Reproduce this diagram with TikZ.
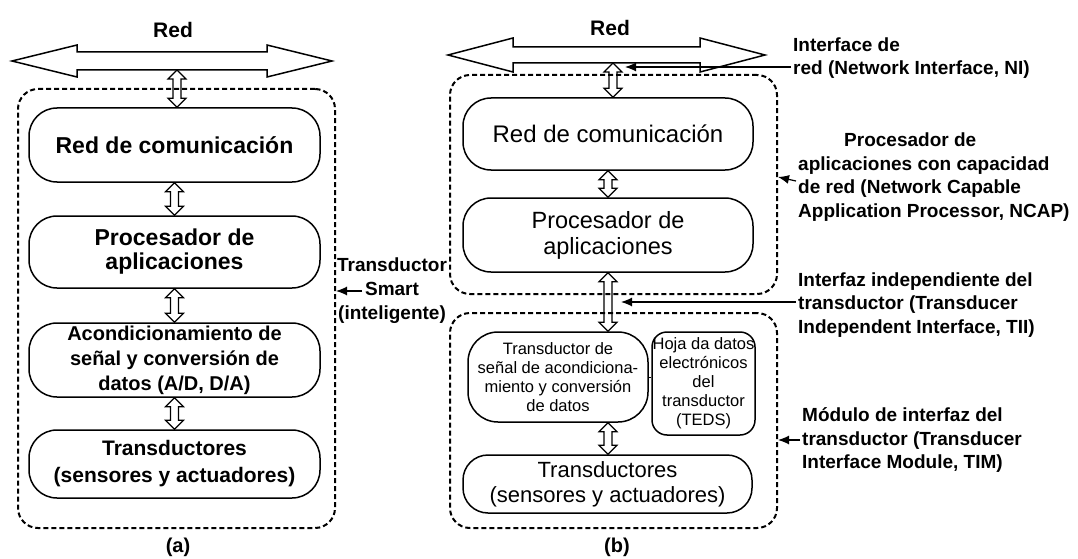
\documentclass[tikz,border=0pt]{standalone}
\usepackage{fontspec}
\setmainfont{Liberation Sans}
\usetikzlibrary{calc,arrows.meta}
\tikzset{>={Latex[length=11pt,width=9pt]}}
\tikzset{
  block/.style={draw, line width=1.5pt, rounded corners=28pt, minimum width=291pt, inner sep=0pt, align=center},
  frame/.style={draw, line width=2pt, dash pattern=on 5pt off 3pt, rounded corners=20pt, inner sep=0pt},
  note/.style={font=\fontsize{19}{23.5}\selectfont\bfseries, align=left, inner sep=2pt},
  linkarrow/.style={draw, line width=1.2pt, line join=miter},
  bus/.style={draw, line width=1.5pt, line join=miter},
}
% doble flecha vertical entre dos puntos
\newcommand{\dblink}[2]{%
  \draw[linkarrow] let \p1=(#1), \p2=(#2) in
    (\x1,\y1) -- ++(9pt,-9pt) -- ++(-5pt,0pt) -- (\x1+4pt,\y2+9pt) -- ++(5pt,0pt) -- (\x1,\y2)
    -- ++(-9pt,9pt) -- ++(5pt,0pt) -- (\x1-4pt,\y1-9pt) -- ++(-5pt,0pt) -- cycle;}

\begin{document}
\begin{tikzpicture}[x=1pt,y=-1pt]
	\useasboundingbox (0,0) rectangle (1078,559);

	% (a)
	\node[font=\fontsize{21}{24}\selectfont\bfseries] (redA) at (173,30) {Red};
	\draw[bus] (12,61) -- (77,45) -- (77,52) -- (267,52) -- (267,45) -- (332,61)
		-- (267,77) -- (267,70) -- (77,70) -- (77,77) -- cycle;
	\coordinate (busA) at (177,70);

	\node[frame, minimum width=317pt, minimum height=439pt] (smartA) at (176.5,308.5) {};
	\node[block, minimum height=74pt, font=\fontsize{23}{24}\selectfont\bfseries] (comA) at (174.5,145) {Red de comunicación};
	\node[block, minimum height=72pt, font=\fontsize{23}{24}\selectfont\bfseries] (procA) at (174.5,252) {Procesador de\\aplicaciones};
	\node[block, minimum height=74pt, font=\fontsize{20}{25}\selectfont\bfseries] (acondA) at (174.5,360) {Acondicionamiento de\\señal y conversión de\\datos (A/D, D/A)};
	\node[block, minimum height=68pt, font=\fontsize{21}{27}\selectfont\bfseries] (transA) at (174.5,464) {Transductores\\(sensores y actuadores)};

	\dblink{busA}{busA |- comA.north}
	\dblink{comA.south}{procA.north}
	\dblink{procA.south}{acondA.north}
	\dblink{acondA.south}{transA.north}

	\node[note, align=center, font=\fontsize{19}{24}\selectfont\bfseries] (smartLbl) at (392,291) {Transductor\\Smart\\(inteligente)};
	\draw[->, line width=1.2pt] ([xshift=-30pt]smartLbl.center) -- (smartA.east |- smartLbl.center);

	\node[font=\fontsize{20}{24}\selectfont\bfseries] (capA) at (178,547) {(a)};

	% (b)
	\node[font=\fontsize{21}{24}\selectfont\bfseries] (redB) at (610,28) {Red};
	\draw[bus] (448,55) -- (513,38) -- (513,47) -- (700,47) -- (700,38) -- (765,55)
		-- (700,72) -- (700,63) -- (513,63) -- (513,72) -- cycle;
	\coordinate (busB) at (613,63);

	\node[frame, minimum width=327pt, minimum height=219pt] (ncapB) at (613.5,184.5) {};
	\node[frame, minimum width=327pt, minimum height=215pt] (timB) at (613.5,420.5) {};

	\node[block, minimum width=290pt, minimum height=72pt, font=\fontsize{24}{26}\selectfont] (comB) at (608,134) {Red de comunicación};
	\node[block, minimum width=290pt, minimum height=74pt, font=\fontsize{23.5}{26}\selectfont] (procB) at (608,235) {Procesador de\\aplicaciones};
	\node[block, minimum width=180pt, minimum height=90pt, rounded corners=30pt, font=\fontsize{16.5}{19}\selectfont] (senB) at (558,377) {Transductor de\\señal de acondiciona-\\miento y conversión\\de datos};
	\node[block, minimum width=103pt, minimum height=103pt, rounded corners=15pt, font=\fontsize{16.5}{19}\selectfont] (tedsB) at (703.5,383.5) {Hoja da datos\\electrónicos\\del\\transductor\\(TEDS)};
	\node[block, minimum width=289pt, minimum height=58pt, rounded corners=25pt, font=\fontsize{22}{25}\selectfont] (transB) at (607.5,484) {Transductores\\(sensores y actuadores)};
	\draw[line width=1pt] (senB.east) -- (senB.east -| tedsB.west);

	\dblink{busB}{busB |- comB.north}
	\dblink{comB.south}{procB.north}
	\dblink{procB.south |- procB.south}{procB.south |- senB.north}
	\dblink{procB.south |- senB.south}{procB.south |- transB.north}

	% etiquetas
	\coordinate (niTip) at (625,67);
	\coordinate (tiiTip) at (621,302);
	\node[note, anchor=west] (niLbl) at (791,58) {Interface de\\red (Network Interface, NI)};
	\node[note, anchor=west] (ncapLbl) at (796,177) {\hspace*{46pt}Procesador de\\aplicaciones con capacidad\\de red (Network Capable\\Application Processor, NCAP)};
	\node[note, anchor=west] (tiiLbl) at (796,305) {Interfaz independiente del\\transductor (Transducer\\Independent Interface, TII)};
	\node[note, anchor=west] (timLbl) at (800,440) {Módulo de interfaz del\\transductor (Transducer\\Interface Module, TIM)};

	\draw[->, line width=1.2pt] (niLbl.west |- niTip) -- (niTip);
	\draw[->, line width=1.2pt] ([yshift=-4pt]ncapLbl.west) -- (ncapB.east |- ncapLbl.west);
	\draw[->, line width=1.2pt] (tiiLbl.west |- tiiTip) -- (tiiTip);
	\draw[->, line width=1.2pt] (timLbl.west) -- (timB.east |- timLbl.west);

	\node[font=\fontsize{20}{24}\selectfont\bfseries] (capB) at (617,547) {(b)};
\end{tikzpicture}
\end{document}
